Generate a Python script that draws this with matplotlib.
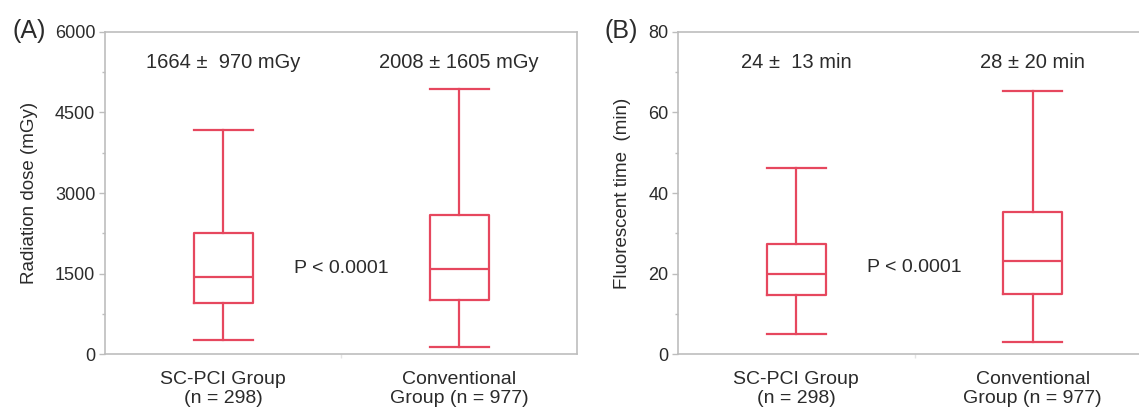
import matplotlib
matplotlib.use("Agg")
import matplotlib.pyplot as plt
from matplotlib.ticker import MultipleLocator, FixedLocator

plt.rcParams['font.family'] = ['Liberation Sans', 'DejaVu Sans']

groups = ["SC-PCI Group\n(n = 298)", "Conventional\nGroup (n = 977)"]

# box statistics: whislo, q1, median, q3, whishi
dose_lo = [266, 123]
dose_q1 = [948, 997]
dose_med = [1432, 1581]
dose_q3 = [2250, 2591]
dose_hi = [4172, 4947]
dose_notes = ["1664 \u00b1  970 mGy", "2008 \u00b1 1605 mGy"]

time_lo = [5.0, 3.1]
time_q1 = [14.7, 15.0]
time_med = [20.0, 23.1]
time_q3 = [27.4, 35.3]
time_hi = [46.3, 65.4]
time_notes = ["24 \u00b1  13 min", "28 \u00b1 20 min"]

p_text = "P < 0.0001"

red = '#e6475e'
grey = '#bdbdbd'
txt = '#2b2b2b'

W, H = 1139, 411
fig = plt.figure(figsize=(W / 100, H / 100), dpi=100)
axA = fig.add_axes([105 / W, 57 / H, 472 / W, 322 / H])
axB = fig.add_axes([678 / W, 57 / H, 473 / W, 322 / H])


def stats(lo, q1, med, q3, hi):
    return [dict(whislo=lo[i], q1=q1[i], med=med[i], q3=q3[i], whishi=hi[i], fliers=[])
            for i in range(len(lo))]


def draw(ax, st, ymax, ystep, ylabel, notes, note_y, p_y, tag, tag_x, labx):
    lp = dict(color=red, linewidth=1.6)
    ax.bxp(st, positions=[1, 2], widths=0.25, capwidths=0.25, showfliers=False,
           boxprops=lp, whiskerprops=lp, capprops=lp, medianprops=lp)
    ax.set_xlim(0.5, 2.5)
    ax.set_ylim(0, ymax)
    ax.set_xticks([1, 2])
    ax.set_xticklabels(groups, fontsize=14, color=txt, linespacing=1.2)
    ax.xaxis.set_minor_locator(FixedLocator([1.5]))
    ax.yaxis.set_major_locator(MultipleLocator(ystep))
    ax.yaxis.set_minor_locator(MultipleLocator(ystep / 2))
    ax.tick_params(axis='y', which='major', length=4, width=1, color=grey,
                   labelsize=13, labelcolor=txt, pad=3)
    ax.tick_params(axis='y', which='minor', length=2.5, width=1, color=grey)
    ax.tick_params(axis='x', which='major', length=0, pad=12)
    ax.tick_params(axis='x', which='minor', length=3, width=1, color='#e4e4e4')
    for s in ax.spines.values():
        s.set_color(grey)
        s.set_linewidth(1.2)
    # top tick label is printed smaller
    ax.get_yticklabels()[-1].set_fontsize(11.5)
    ax.set_ylabel(ylabel, fontsize=13.5, color=txt)
    ax.yaxis.set_label_coords(labx, 0.5)
    for x, s in zip([1, 2], notes):
        ax.text(x, note_y, s, ha='center', va='center', fontsize=14.5, color=txt)
    ax.text(1.5, p_y, p_text, ha='center', va='center', fontsize=14, color=txt)
    fig.text(tag_x / W, 1 - 31 / H, tag, ha='right', va='center', fontsize=18, color=txt)


draw(axA, stats(dose_lo, dose_q1, dose_med, dose_q3, dose_hi), 6000, 1500,
     "Radiation dose (mGy)", dose_notes, 5430, 1600, "(A)", 46, -0.142)
draw(axB, stats(time_lo, time_q1, time_med, time_q3, time_hi), 80, 20,
     "Fluorescent time  (min)", time_notes, 72.4, 21.4, "(B)", 638, -0.10)

fig.savefig("out.png", dpi=100)
